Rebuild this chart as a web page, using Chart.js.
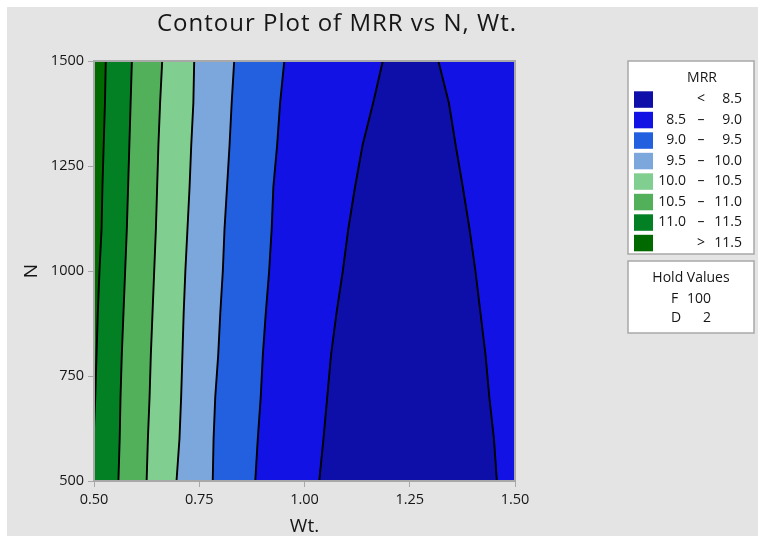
<!DOCTYPE html>
<html>
<head>
<meta charset="utf-8">
<script src="https://cdn.jsdelivr.net/npm/chart.js@4.4.1/dist/chart.umd.min.js"></script>
<style>
  html, body { margin: 0; padding: 0; background: #fff; }
  #wrap { width: 758px; height: 536px; }
</style>
</head>
<body>
<div id="wrap"><canvas id="contour" width="758" height="536"></canvas></div>
<script>
const nLevels = [500, 600, 700, 800, 900, 1000, 1100, 1200, 1300, 1400, 1500];

// Wt. position of each contour line at those N values
const line115 = [0.496, 0.499, 0.503, 0.506, 0.509, 0.513, 0.518, 0.520, 0.523, 0.526, 0.528];
const line110 = [0.558, 0.561, 0.563, 0.566, 0.570, 0.574, 0.578, 0.581, 0.584, 0.587, 0.590];
const line105 = [0.625, 0.628, 0.632, 0.635, 0.639, 0.643, 0.647, 0.650, 0.653, 0.657, 0.662];
const line100 = [0.696, 0.703, 0.707, 0.710, 0.713, 0.717, 0.722, 0.727, 0.731, 0.736, 0.738];
const line95  = [0.782, 0.784, 0.788, 0.795, 0.800, 0.806, 0.810, 0.816, 0.822, 0.827, 0.833];
const line90  = [0.883, 0.889, 0.896, 0.901, 0.908, 0.916, 0.922, 0.926, 0.935, 0.942, 0.952];
const line85L = [1.035, 1.045, 1.054, 1.063, 1.076, 1.091, 1.104, 1.120, 1.138, 1.163, 1.186];
const line85R = [1.457, 1.450, 1.439, 1.430, 1.418, 1.406, 1.392, 1.376, 1.359, 1.343, 1.318];

const xTicks = [0.50, 0.75, 1.00, 1.25, 1.50];
const yTicks = [500, 750, 1000, 1250, 1500];

// legend bands, low MRR first
const bandColors = ['#0e0ea8', '#1212e4', '#2360e0', '#7ba7dc', '#80cf90', '#52b05a', '#037f24', '#006a00'];
const bandLow  = ['', '8.5', '9.0', '9.5', '10.0', '10.5', '11.0', ''];
const bandSep  = ['<', '–', '–', '–', '–', '–', '–', '>'];
const bandHigh = ['8.5', '9.0', '9.5', '10.0', '10.5', '11.0', '11.5', '11.5'];

const holdNames = ['F', 'D'];
const holdValues = ['100', '2'];

const FONT = '"Open Sans", "Noto Sans", sans-serif';
const INK = '#161616';
const EDGE = '#a8a8a8';
const PAGE = '#e4e4e4';

// each line is filled leftwards with the band on its left; drawn right to left
const contours = [
  { wt: line115, color: bandColors[7] },
  { wt: line110, color: bandColors[6] },
  { wt: line105, color: bandColors[5] },
  { wt: line100, color: bandColors[4] },
  { wt: line95,  color: bandColors[3] },
  { wt: line90,  color: bandColors[2] },
  { wt: line85L, color: bandColors[1] },
  { wt: line85R, color: bandColors[0] }
];

const datasets = contours.map(c => ({
  data: nLevels.map((n, i) => ({ x: c.wt[i], y: n })),
  borderColor: '#000',
  borderWidth: 1.9,
  backgroundColor: c.color,
  fill: { value: 0.3 },
  pointRadius: 0,
  tension: 0
}));

const decor = {
  id: 'decor',
  beforeDraw(chart) {
    const { ctx, chartArea: a } = chart;
    ctx.save();
    ctx.fillStyle = '#fff';
    ctx.fillRect(0, 0, chart.width, chart.height);
    ctx.fillStyle = PAGE;
    ctx.fillRect(7, 7, chart.width - 7, chart.height - 7);
    // band to the right of the 9.0 line and around the <8.5 pocket
    ctx.fillStyle = bandColors[1];
    ctx.fillRect(a.left, a.top, a.right - a.left, a.bottom - a.top);
    ctx.restore();
  },
  afterDatasetsDraw(chart) {
    const { ctx, chartArea: a } = chart;
    ctx.save();
    ctx.strokeStyle = EDGE;
    ctx.lineWidth = 2;
    ctx.strokeRect(a.left, a.top, a.right - a.left, a.bottom - a.top);
    ctx.restore();
  },
  afterDraw(chart) {
    const { ctx } = chart;
    ctx.save();
    ctx.fillStyle = INK;
    ctx.textBaseline = 'alphabetic';
    ctx.textAlign = 'center';
    ctx.font = '24px ' + FONT;
    ctx.letterSpacing = '1px';
    ctx.fillText('Contour Plot of MRR vs N, Wt.', 337, 31);
    ctx.letterSpacing = '0px';

    // MRR legend box and hold values box
    ctx.fillStyle = '#fff';
    ctx.strokeStyle = EDGE;
    ctx.lineWidth = 1.5;
    ctx.fillRect(628, 61, 126, 193);
    ctx.strokeRect(628, 61, 126, 193);
    ctx.fillRect(628, 261, 126, 72);
    ctx.strokeRect(628, 261, 126, 72);

    ctx.fillStyle = INK;
    ctx.font = '14px ' + FONT;
    ctx.textBaseline = 'middle';
    ctx.textAlign = 'center';
    ctx.fillText('MRR', 702, 78);

    bandColors.forEach((col, i) => {
      const cy = 99.3 + i * 20.5;
      ctx.fillStyle = col;
      ctx.fillRect(634, cy - 8, 19, 16.5);
      ctx.fillStyle = INK;
      ctx.textAlign = 'right';
      if (bandLow[i]) ctx.fillText(bandLow[i], 686, cy);
      ctx.fillText(bandHigh[i], 742, cy);
      ctx.textAlign = 'center';
      ctx.fillText(bandSep[i], 701, cy);
    });

    ctx.textAlign = 'center';
    ctx.fillText('Hold Values', 691, 278);
    holdNames.forEach((name, i) => {
      const cy = 299 + i * 19.3;
      ctx.textAlign = 'left';
      ctx.fillText(name, 671, cy);
      ctx.textAlign = 'right';
      ctx.fillText(holdValues[i], 711, cy);
    });
    ctx.restore();
  }
};

new Chart(document.getElementById('contour'), {
  type: 'line',
  data: { datasets },
  options: {
    indexAxis: 'y',
    responsive: false,
    animation: false,
    devicePixelRatio: 1,
    layout: { padding: { top: 61, right: 243, left: 0, bottom: 0 } },
    plugins: {
      legend: { display: false },
      tooltip: { enabled: false },
      title: { display: false }
    },
    scales: {
      x: {
        type: 'linear',
        position: 'bottom',
        min: 0.5,
        max: 1.5,
        afterBuildTicks: scale => { scale.ticks = xTicks.map(v => ({ value: v })); },
        afterFit: scale => { scale.height = 55; },
        ticks: {
          padding: 4,
          color: INK,
          font: { family: FONT, size: 14.5 },
          callback: v => v.toFixed(2)
        },
        grid: { drawOnChartArea: false, tickLength: 6, tickColor: EDGE },
        border: { display: false },
        title: {
          display: true,
          text: 'Wt.',
          color: INK,
          font: { family: FONT, size: 19, lineHeight: 1 },
          padding: { top: 0, bottom: 0 }
        }
      },
      y: {
        type: 'linear',
        position: 'left',
        min: 500,
        max: 1500,
        afterBuildTicks: scale => { scale.ticks = yTicks.map(v => ({ value: v })); },
        afterFit: scale => { scale.width = 94; },
        ticks: {
          padding: 4,
          color: INK,
          font: { family: FONT, size: 14.5 },
          callback: v => String(v)
        },
        grid: { drawOnChartArea: false, tickLength: 6, tickColor: EDGE },
        border: { display: false },
        title: {
          display: true,
          text: 'N',
          color: INK,
          font: { family: FONT, size: 19, lineHeight: 1 },
          padding: { top: 22, bottom: 0 }
        }
      }
    }
  },
  plugins: [decor]
});
</script>
</body>
</html>
